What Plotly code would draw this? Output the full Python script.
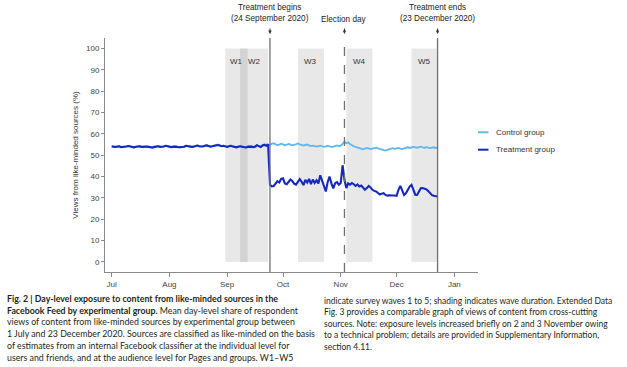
import pandas as pd
import plotly.graph_objects as go

# ---------------- data ----------------
ctrl_jul = [54.2, 54.0, 53.8, 54.1, 54.3, 53.9, 53.7, 54.0, 54.2, 54.4,
            54.1, 53.8, 53.6, 53.9, 54.2, 54.3, 54.0, 53.7, 53.9, 54.1,
            54.0, 53.6, 53.5, 53.8, 54.1, 54.3, 54.0, 53.8, 54.2, 54.5,
            54.3]
ctrl_aug = [54.0, 53.7, 53.9, 54.2, 54.0, 53.8, 53.6, 53.9, 54.1, 54.5,
            54.3, 54.0, 53.8, 54.1, 54.4, 54.6, 54.3, 54.0, 54.2, 54.5,
            54.7, 54.4, 54.1, 54.3, 54.6, 54.8, 55.0, 54.6, 54.3, 54.5,
            54.2]
ctrl_sep = [54.0, 54.3, 54.5, 54.2, 54.0, 53.8, 54.1, 54.4, 54.2, 53.9,
            53.7, 54.0, 54.3, 54.1, 53.9, 54.2, 54.6, 54.3, 54.0, 54.4,
            54.8, 55.0, 54.7, 54.9, 55.3, 55.6, 55.1, 54.8, 55.0, 55.4]
ctrl_oct = [55.1, 54.7, 54.9, 55.3, 55.0, 54.6, 54.8, 55.2, 55.5, 55.1,
            54.7, 54.5, 54.8, 55.0, 54.6, 54.3, 54.5, 54.2, 54.0, 54.3,
            54.5, 54.2, 53.9, 54.1, 54.4, 54.2, 53.8, 54.0, 54.3, 54.6,
            54.2]
ctrl_nov = [54.5, 55.3, 56.3, 55.6, 56.0, 55.2, 54.6, 54.2, 53.9, 53.6,
            53.3, 53.0, 52.8, 53.1, 53.4, 53.2, 52.9, 53.1, 53.4, 53.5,
            53.2, 53.0, 52.7, 52.4, 52.2, 52.5, 52.8, 53.1, 53.3, 53.0]
ctrl_dec = [53.2, 53.4, 53.1, 52.9, 53.2, 53.5, 53.7, 53.4, 53.6, 53.9,
            53.7, 53.5, 53.8, 54.0, 53.7, 53.5, 53.8, 53.6, 53.3, 53.5,
            53.7, 53.4, 53.6]

treat_jul = [54.1, 53.9, 53.9, 54.0, 54.2, 53.8, 53.8, 54.1, 54.1, 54.3,
             54.0, 53.7, 53.7, 54.0, 54.1, 54.2, 53.9, 53.8, 54.0, 54.0,
             53.9, 53.7, 53.6, 53.9, 54.0, 54.2, 53.9, 53.9, 54.1, 54.4,
             54.2]
treat_aug = [53.9, 53.8, 54.0, 54.1, 53.9, 53.7, 53.7, 54.0, 54.0, 54.4,
             54.2, 53.9, 53.9, 54.0, 54.3, 54.5, 54.2, 54.0, 54.1, 54.4,
             54.6, 54.3, 54.0, 54.2, 54.5, 54.7, 54.8, 54.5, 54.2, 54.4,
             54.1]
treat_sep = [53.9, 54.2, 54.4, 54.1, 54.0, 53.7, 54.0, 54.2, 54.0, 53.8,
             53.6, 53.9, 54.1, 54.0, 53.8, 54.0, 54.7, 54.2, 53.8, 54.6,
             54.9, 54.4, 55.1, 36.2, 35.4, 35.6, 36.5, 37.8, 37.2, 38.9]
treat_oct = [39.2, 36.8, 36.4, 37.5, 38.6, 37.9, 36.7, 36.2, 37.4, 38.8,
             37.6, 36.0, 38.4, 37.2, 38.9, 36.5, 38.6, 37.0, 38.3, 36.7,
             40.6, 37.8, 35.2, 33.0, 37.5, 40.0, 36.8, 34.5, 36.9, 37.4,
             36.2]
treat_nov = [37.0, 45.3, 38.5, 34.6, 36.8, 36.2, 37.0, 36.4, 35.6, 36.3,
             35.4, 35.8, 34.9, 33.8, 34.6, 35.6, 34.9, 33.8, 33.3, 33.0,
             32.3, 31.6, 32.0, 32.2, 31.4, 31.1, 31.2, 31.0, 31.1, 31.1]
treat_dec = [31.0, 33.8, 35.6, 33.5, 31.4, 32.2, 33.9, 35.3, 36.1, 34.2,
             31.5, 31.4, 33.0, 34.5, 34.6, 34.2, 34.0, 33.2, 32.1, 31.3,
             31.0, 30.8, 30.7]

control = ctrl_jul + ctrl_aug + ctrl_sep + ctrl_oct + ctrl_nov + ctrl_dec
treatment = treat_jul + treat_aug + treat_sep + treat_oct + treat_nov + treat_dec
dates = pd.date_range("2020-07-01", periods=len(control), freq="D")

wave_names = ["W1", "W2", "W3", "W4", "W5"]
wave_start = ["2020-08-31", "2020-09-08", "2020-10-09", "2020-11-04", "2020-12-09"]
wave_end = ["2020-09-12", "2020-09-23", "2020-10-23", "2020-11-18", "2020-12-23"]

event_dates = ["2020-09-24", "2020-11-03", "2020-12-23"]
event_labels = ["Treatment begins<br>(24 September 2020)", "Election day",
                "Treatment ends<br>(23 December 2020)"]
event_dash = ["solid", "dash", "solid"]

month_ticks = ["2020-07-01", "2020-08-01", "2020-09-01", "2020-10-01",
               "2020-11-01", "2020-12-01", "2021-01-01"]
month_labels = ["Jul", "Aug", "Sep", "Oct", "Nov", "Dec", "Jan"]
y_ticks = list(range(0, 101, 10))

series_names = ["Control group", "Treatment group"]

caption_left = [
    "<b>Fig. 2 | Day-level exposure to content from like-minded sources in the</b>",
    "<b>Facebook Feed by experimental group.</b> Mean day-level share of respondent",
    "views of content from like-minded sources by experimental group between",
    "1 July and 23 December 2020. Sources are classified as like-minded on the basis",
    "of estimates from an internal Facebook classifier at the individual level for",
    "users and friends, and at the audience level for Pages and groups. W1–W5",
]
caption_right = [
    "indicate survey waves 1 to 5; shading indicates wave duration. Extended Data",
    "Fig. 3 provides a comparable graph of views of content from cross-cutting",
    "sources. Note: exposure levels increased briefly on 2 and 3 November owing",
    "to a technical problem; details are provided in Supplementary Information,",
    "section 4.11.",
]

# ---------------- styles ----------------
CTRL = "#5cb8ee"
TREAT = "#1428c0"
AXIS = "#8a8a8a"
TXT = "#333333"
FONT = "Liberation Sans, Arial, sans-serif"
CAP_FONT = "Lato, sans-serif"

W, H = 627, 367
L, R, T, B = 105, 149, 38, 95
plot_w = W - L - R
plot_h = H - T - B

fig = go.Figure()

fig.add_trace(go.Scatter(x=dates, y=control, mode="lines", name=series_names[0],
                         line=dict(color=CTRL, width=1.8), showlegend=False))
fig.add_trace(go.Scatter(x=dates, y=treatment, mode="lines", name=series_names[1],
                         line=dict(color=TREAT, width=2.1), showlegend=False))

shapes = []
annotations = []

# wave shading
for name, s, e in zip(wave_names, wave_start, wave_end):
    shapes.append(dict(type="rect", xref="x", yref="y", x0=s, x1=e, y0=0, y1=100,
                       fillcolor="rgba(0,0,0,0.09)", line=dict(width=0), layer="below"))
    mid = pd.Timestamp(s) + (pd.Timestamp(e) - pd.Timestamp(s)) / 2
    annotations.append(dict(x=mid, y=94, xref="x", yref="y", text=name, showarrow=False,
                            font=dict(size=8, color=TXT, family=FONT)))

# event lines
for d, lab, dash in zip(event_dates, event_labels, event_dash):
    shapes.append(dict(type="line", xref="x", yref="paper", x0=d, x1=d, y0=0, y1=1,
                       line=dict(color="#707070", width=1.3, dash=dash)))
    annotations.append(dict(x=d, y=1 + 4 / plot_h, xref="x", yref="paper", text="",
                            showarrow=True, ax=0, ay=-7, arrowhead=2, arrowsize=0.7,
                            arrowwidth=1, arrowcolor="#333", standoff=0))
    two = "<br>" in lab
    ypix = 13 if two else 19
    annotations.append(dict(x=d, y=(H - B - ypix) / plot_h, xref="x", yref="paper",
                            text=lab, showarrow=False, yanchor="middle",
                            font=dict(size=8.2, color="#222", family=FONT)))

# manual legend
leg_y = [132.3, 149.7]
for name, col, yp in zip(series_names, [CTRL, TREAT], leg_y):
    yy = (H - B - yp) / plot_h
    shapes.append(dict(type="line", xref="paper", yref="paper",
                       x0=(478 - L) / plot_w, x1=(488.5 - L) / plot_w, y0=yy, y1=yy,
                       line=dict(color=col, width=2)))
    annotations.append(dict(x=(494 - L) / plot_w, y=yy, xref="paper", yref="paper",
                            text=name, showarrow=False, xanchor="left", yanchor="middle",
                            font=dict(size=8, color=TXT, family=FONT)))

# caption
for i, line in enumerate(caption_left):
    yp = 298.3 + i * 11.8
    annotations.append(dict(x=(5 - L) / plot_w, y=(H - B - yp) / plot_h, xref="paper",
                            yref="paper", text=line, showarrow=False, xanchor="left",
                            yanchor="middle", font=dict(size=8.8, color="#231f20", family=CAP_FONT)))
for i, line in enumerate(caption_right):
    yp = 300.7 + i * 11.5
    annotations.append(dict(x=(321.5 - L) / plot_w, y=(H - B - yp) / plot_h, xref="paper",
                            yref="paper", text=line, showarrow=False, xanchor="left",
                            yanchor="middle", font=dict(size=8.5, color="#231f20", family=CAP_FONT)))

fig.update_layout(
    width=W, height=H,
    margin=dict(l=L, r=R, t=T, b=B, pad=0),
    paper_bgcolor="white", plot_bgcolor="white",
    font=dict(family=FONT, size=8, color=TXT),
    shapes=shapes, annotations=annotations,
    showlegend=False,
)
fig.update_xaxes(range=["2020-06-27 10:00", "2021-01-13 17:00"],
                 tickvals=month_ticks, ticktext=month_labels, automargin=False,
                 showline=True, linecolor=AXIS, linewidth=1, showgrid=False, zeroline=False,
                 ticks="outside", ticklen=4, tickcolor=AXIS, tickwidth=1,
                 tickfont=dict(size=8, color="#444"))
fig.update_yaxes(range=[-4.7, 104.9], tickvals=y_ticks, automargin=False,
                 showline=True, linecolor=AXIS, linewidth=1, showgrid=False, zeroline=False,
                 ticks="outside", ticklen=3, tickcolor=AXIS, tickwidth=1,
                 tickfont=dict(size=8, color="#444"),
                 title=dict(text="Views from like-minded sources (%)", standoff=6,
                            font=dict(size=8, color=TXT)))

fig.write_html("out.html", config={"displayModeBar": False},
               post_script="document.body.style.margin='0px';document.body.style.overflow='hidden';")
